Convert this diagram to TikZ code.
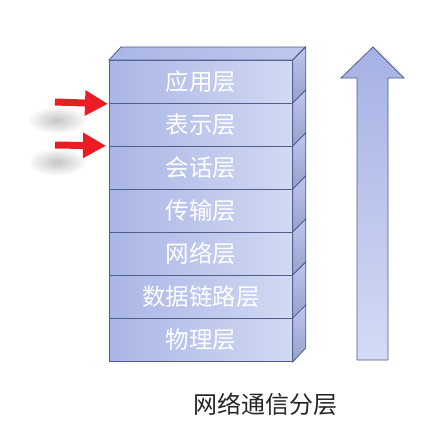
\documentclass[tikz,border=0pt]{standalone}
\usepackage{fontspec}
\newfontfamily\cjk{Noto Sans CJK SC}
\usetikzlibrary{arrows.meta}
\definecolor{bord}{RGB}{80,94,140}
\definecolor{frontL}{RGB}{170,182,230}
\definecolor{frontR}{RGB}{210,217,243}
\definecolor{sideC}{RGB}{150,160,200}
\definecolor{topC}{RGB}{190,200,238}
\definecolor{arrT}{RGB}{165,177,228}
\definecolor{arrB}{RGB}{212,219,245}
\definecolor{redA}{RGB}{236,28,36}
\tikzset{
  layer/.style={draw=bord, line width=0.8pt, minimum width=183pt, minimum height=43pt,
    inner sep=0pt, left color=frontL, right color=frontR, text=white,
    font=\cjk\fontsize{23.5}{23.5}\selectfont, anchor=north west},
  sideface/.style={draw=bord, line width=0.8pt, top color=topC, bottom color=sideC},
  topface/.style={draw=bord, line width=0.8pt, left color=frontL, right color=topC},
  redarrow/.style={draw=redA, line width=7pt, -{Triangle[width=24pt,length=23pt]}},
  blur/.style={inner color=gray!45, outer color=white}
}
\begin{document}
\begin{tikzpicture}[x=1pt,y=-1pt]
\useasboundingbox (0,0) rectangle (443,442);
% shadows
\shade[blur] (57,120) ellipse (30 and 14);
\shade[blur] (57,162) ellipse (30 and 14);
% layers
\node[layer] (l1) at (109,60) {应用层};
\node[layer] (l2) at (109,103) {表示层};
\node[layer] (l3) at (109,146) {会话层};
\node[layer] (l4) at (109,189) {传输层};
\node[layer] (l5) at (109,232) {网络层};
\node[layer] (l6) at (109,275) {数据链路层};
\node[layer] (l7) at (109,318) {物理层};
\draw[topface] (l1.north west) -- ++(12,-13) -- ++(184,0) -- (l1.north east) -- cycle;
\foreach \n in {l1,l2,l3,l4,l5,l6,l7}{
  \draw[sideface] (\n.north east) -- ++(13,-13) -- ++(0,43) -- (\n.south east) -- cycle;
}
% big up arrow
\draw[bord, line width=0.8pt, top color=arrT, bottom color=arrB]
  (357,360) -- (357,78) -- (341,78) -- (373,47) -- (404,78) -- (388,78) -- (388,360) -- cycle;
% red arrows
\coordinate (s1) at (55,102);
\coordinate (s2) at (55,145);
\draw[redarrow] (s1) -- ([xshift=-1pt]l1.south west);
\draw[redarrow] (s2) -- ([xshift=-3pt,yshift=1pt]l2.south west);
% title
\node[font=\cjk\fontsize{24}{24}\selectfont, text=black!85] (title) at (265,404) {网络通信分层};
\end{tikzpicture}
\end{document}
